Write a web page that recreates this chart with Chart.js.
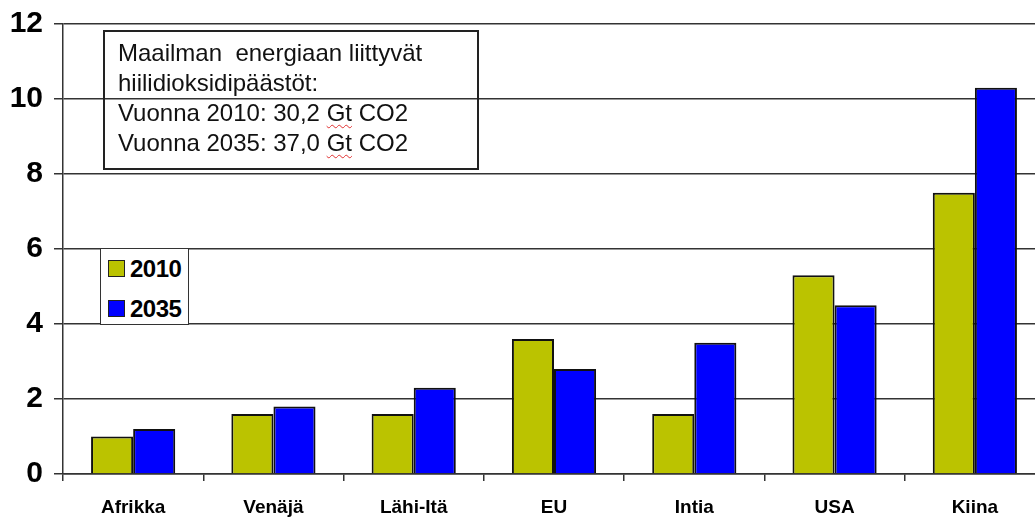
<!DOCTYPE html>
<html>
<head>
<meta charset="utf-8">
<script src="https://cdn.jsdelivr.net/npm/chart.js@4"></script>
<style>
  body { margin: 0; width: 1035px; height: 519px; overflow: hidden; background: #fff; font-family: "Liberation Sans", Arial, sans-serif; }
  #wrap { position: absolute; left: 0; top: 0; width: 1045px; height: 519px; }
  #note {
    position: absolute; left: 103px; top: 30px; width: 372px; height: 136px;
    border: 2px solid #222; box-sizing: content-box;
    font-size: 24px; line-height: 30px; color: #111; padding: 0;
  }
  #note div { padding-left: 13px; white-space: pre; }
  #note div:first-child { margin-top: 6px; }
  .squiggle { text-decoration: underline wavy #e03030; text-decoration-thickness: 1px; text-underline-offset: 3px; }
  #legend {
    position: absolute; left: 100px; top: 248px; width: 87px; height: 75px;
    border: 1.5px solid #333; background: #fff;
  }
  .item { position: absolute; left: 7px; font-weight: bold; font-size: 24px; color: #000; letter-spacing: -0.5px; }
  .item .sw { display: inline-block; width: 15px; height: 15px; border: 1px solid #222; vertical-align: middle; margin-right: 5px; position: relative; top: -2px; }
</style>
</head>
<body>
<div id="wrap"><canvas id="chart"></canvas></div>
<div id="note">
  <div>Maailman  energiaan liittyvät</div>
  <div>hiilidioksidipäästöt:</div>
  <div>Vuonna 2010: 30,2 <span class="squiggle">Gt</span> CO2</div>
  <div>Vuonna 2035: 37,0 <span class="squiggle">Gt</span> CO2</div>
</div>
<div id="legend"></div>
<script>
const categories = ["Afrikka", "Venäjä", "Lähi-Itä", "EU", "Intia", "USA", "Kiina"];
const values2010 = [1.0, 1.6, 1.6, 3.6, 1.6, 5.3, 7.5];
const values2035 = [1.2, 1.8, 2.3, 2.8, 3.5, 4.5, 10.3];
const seriesNames = ["2010", "2035"];
const yMin = 0;
const yMax = 12;
const yStep = 2;

const COLORS = ["#bbc300", "#0000ff"];

const ctx = document.getElementById("chart").getContext("2d");

const chart = new Chart(ctx, {
  type: "bar",
  data: {
    labels: categories,
    datasets: [
      {
        label: seriesNames[0],
        data: values2010,
        backgroundColor: COLORS[0],
        borderColor: "#111",
        borderWidth: 2,
        borderSkipped: "bottom",
      },
      {
        label: seriesNames[1],
        data: values2035,
        backgroundColor: COLORS[1],
        borderColor: "#111",
        borderWidth: 2,
        borderSkipped: "bottom",
      },
    ],
  },
  options: {
    responsive: true,
    maintainAspectRatio: false,
    animation: false,
    layout: { padding: { top: 24, right: 0, left: 0, bottom: 0 } },
    datasets: {
      bar: { categoryPercentage: 0.6, barPercentage: 1.0 },
    },
    plugins: {
      legend: { display: false },
      tooltip: { enabled: false },
    },
    scales: {
      x: {
        offset: true,
        grid: {
          offset: true,
          drawOnChartArea: false,
          tickLength: 7,
          color: "#333",
          lineWidth: 1.5,
        },
        border: { color: "#333", width: 1.5 },
        ticks: {
          color: "#000",
          padding: 15,
          font: { family: "Liberation Sans", size: 19, weight: "bold" },
        },
        afterFit: (scale) => {
          scale.height = 45;
        },
      },
      y: {
        min: yMin,
        max: yMax,
        ticks: {
          stepSize: yStep,
          color: "#000",
          padding: 11,
          font: { family: "Liberation Sans", size: 30, weight: "bold", lineHeight: 0.8 },
        },
        grid: { color: "#333", lineWidth: 1.5, tickLength: 9 },
        border: { color: "#333", width: 1.5 },
        afterFit: (scale) => {
          scale.width = 63;
        },
      },
    },
  },
});

// Legend drawn as HTML inside the plot
const legendEl = document.getElementById("legend");
legendEl.innerHTML = chart.data.datasets
  .map((ds, i) => {
    const top = i === 0 ? 6 : 46;
    return `<div class="item" style="top:${top}px"><span class="sw" style="background:${ds.backgroundColor}"></span>${ds.label}</div>`;
  })
  .join("");
</script>
</body>
</html>
